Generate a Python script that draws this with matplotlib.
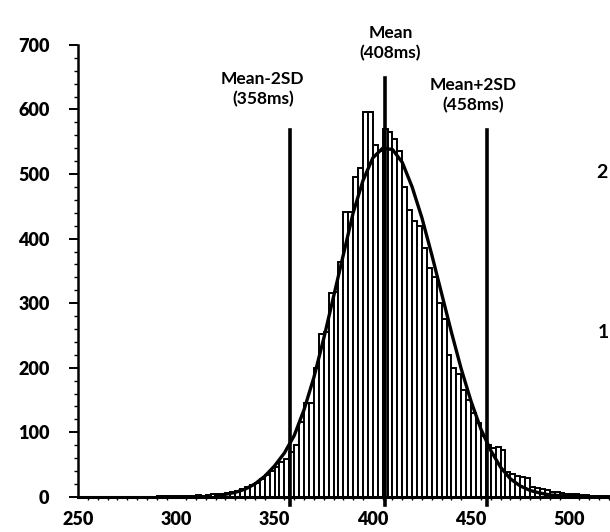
import numpy as np
import matplotlib
matplotlib.use("Agg")
import matplotlib.pyplot as plt

# reaction time histogram, 2.5 ms bins starting at 290 ms
bin_start = 290
bin_width = 2.5
counts = [
    1, 1, 1, 1, 2, 1, 2, 2, 3, 2, 3, 4, 4, 5, 6, 8,
    9, 12, 15, 18, 22, 28, 34, 40, 46, 54, 58, 70,
    80, 116, 146, 146, 200, 252, 256, 316, 318, 364, 441, 441, 496, 509, 596, 596,
    545, 535, 570, 565, 555, 535, 480, 445, 428, 420, 385, 355, 340, 300, 275, 220,
    200, 190, 165, 150, 130, 115, 95, 80, 76, 78, 72, 39, 36, 33, 31, 30,
    16, 14, 12, 10, 8, 7, 6, 5, 4, 4, 3, 3, 2, 2, 1, 1,
]

# fitted curve
curve_x = [320, 325, 330, 335, 340, 345, 350, 355, 360, 365, 370, 375, 380, 385,
           390, 395, 400, 405, 410, 415, 420, 425, 430, 435, 440, 445, 450, 455,
           460, 465, 470, 475, 480, 485, 490, 495, 500, 510]
curve_y = [2, 4, 7, 12, 20, 32, 48, 68, 95, 135, 185, 245, 310, 375,
           440, 490, 525, 540, 538, 518, 480, 432, 375, 315, 255, 198, 148, 105,
           72, 46, 28, 17, 10, 6, 3, 2, 1, 0]

# marker lines and their labels
line_x = [358, 406, 458]
line_top = [568, 649, 568]
line_labels = ["Mean-2SD\n(358ms)", "Mean\n(408ms)", "Mean+2SD\n(458ms)"]
label_x = [344, 409, 451]
label_y = [632, 702, 622]

x_ticks = [250, 300, 350, 400, 450, 500]
y_ticks = [0, 100, 200, 300, 400, 500, 600, 700]

FONT = "Lato"


def plot_histogram(output_file="out.png"):
    fig = plt.figure(figsize=(6.10, 5.32), dpi=100)
    ax = fig.add_axes([0.128, 0.066, 0.872, 0.8496])

    edges = bin_start + bin_width * np.arange(len(counts))
    ax.bar(edges, counts, width=bin_width, align="edge", color="white",
           edgecolor="black", linewidth=1.4, zorder=2)
    ax.plot(curve_x, curve_y, color="black", linewidth=2.4, zorder=3)

    for x, top in zip(line_x, line_top):
        ax.plot([x, x], [-12, top], color="black", linewidth=2.6,
                clip_on=False, zorder=4)
    for x, y, txt in zip(label_x, label_y, line_labels):
        ax.text(x, y, txt, ha="center", va="center", fontsize=12.5,
                fontweight="bold", family=FONT, linespacing=1.3,
                clip_on=False)

    ax.set_xlim(250, 520.7)
    ax.set_ylim(0, 700)
    ax.set_xticks(x_ticks)
    ax.set_yticks(y_ticks)
    ax.set_xticks(np.arange(250, 521, 5), minor=True)
    ax.set_yticks(np.arange(0, 701, 20), minor=True)
    ax.tick_params(axis="x", which="major", length=0, pad=10)
    ax.tick_params(axis="x", which="minor", length=2.5, width=1.0)
    ax.tick_params(axis="y", which="major", length=6.5, width=1.4, pad=14)
    ax.tick_params(axis="y", which="minor", length=3, width=1.0)
    for lab in ax.get_xticklabels() + ax.get_yticklabels():
        lab.set_fontfamily(FONT)
        lab.set_fontweight("heavy")
        lab.set_fontsize(13)

    ax.spines["top"].set_visible(False)
    ax.spines["right"].set_visible(False)
    ax.spines["left"].set_linewidth(1.8)
    ax.spines["bottom"].set_linewidth(2.2)

    # cut-off pieces of the neighbouring panel
    fig.text(0.978, 0.665, "2", fontsize=14, fontweight="bold", family=FONT)
    fig.text(0.980, 0.365, "1", fontsize=14, fontweight="bold", family=FONT)

    fig.savefig(output_file, dpi=100)
    plt.close(fig)


if __name__ == "__main__":
    plot_histogram("out.png")
